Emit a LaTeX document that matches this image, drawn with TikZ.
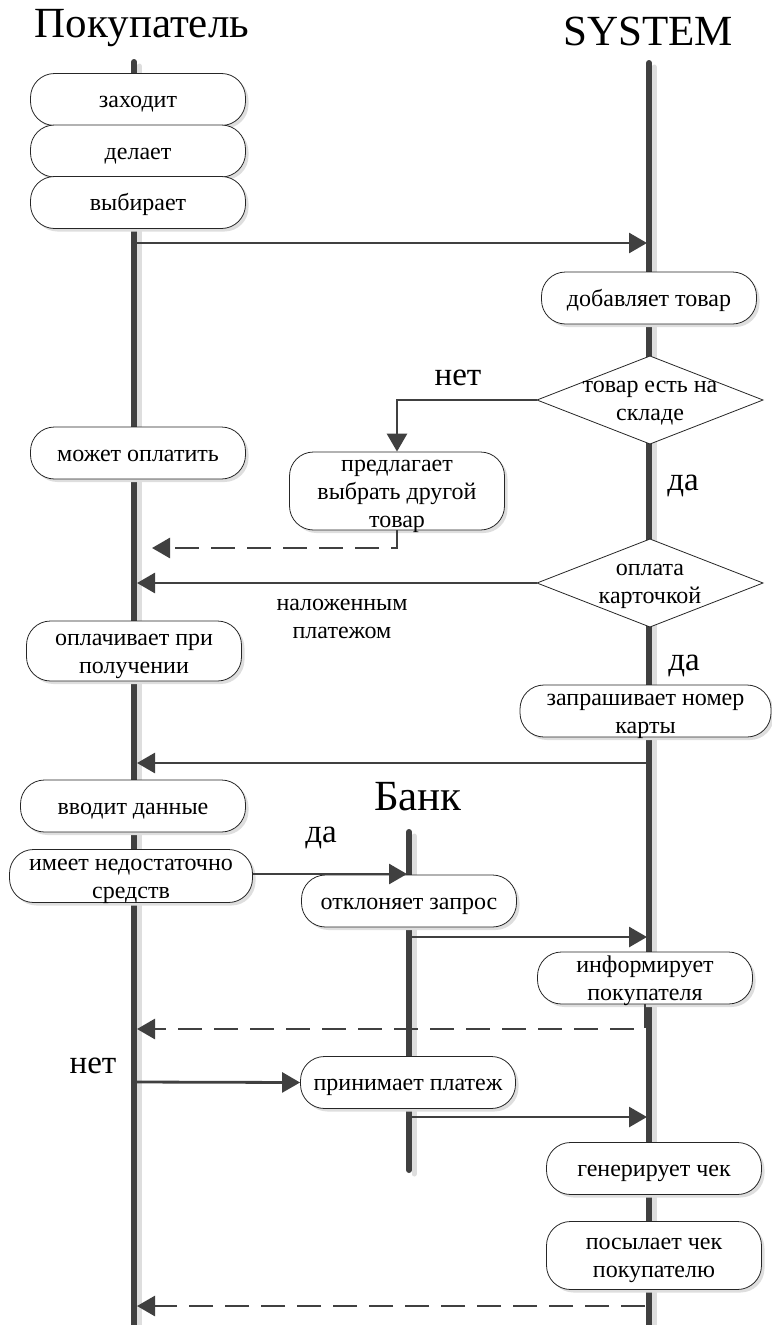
\documentclass[tikz,border=0pt]{standalone}
\usepackage{fontspec}
\setmainfont{Liberation Serif}
\usetikzlibrary{arrows.meta, shadows}
\usepackage{xcolor}

\definecolor{linegray}{HTML}{404040}
\definecolor{shadegray}{HTML}{DEDEDE}

\tikzset{
  action/.style={draw=black!85, line width=0.8pt, fill=white, rounded corners=24pt,
    minimum width=215pt, minimum height=52pt, align=center, inner sep=0pt,
    font=\fontsize{24}{28}\selectfont, text height=16pt, text depth=0pt,
    drop shadow={shadow xshift=3pt, shadow yshift=-3pt, fill=shadegray, opacity=1}},
  twolines/.style={text height=44pt},
  decision/.style={draw=black!85, line width=0.8pt, fill=white},
  lifeline/.style={draw=linegray, line width=6pt, line cap=round},
  lifeshade/.style={draw=shadegray, line width=5pt, line cap=round},
  msg/.style={draw=linegray, line width=2.8pt, -{Triangle[length=18pt,width=20pt]}},
  reply/.style={msg, dash pattern=on 24pt off 12pt},
  lane/.style={font=\fontsize{43}{46}\selectfont, anchor=base},
  cond/.style={font=\fontsize{33}{35}\selectfont, anchor=base},
  note/.style={font=\fontsize{24}{28}\selectfont, align=center, text height=44pt,
    text depth=0pt, inner sep=0pt},
}

\begin{document}
\begin{tikzpicture}[x=1pt, y=-1pt]
  \useasboundingbox (0,0) rectangle (771,1325);

  % lifelines
  \foreach \x/\t/\b in {134/62/1335, 649/63/1335, 409/832/1170} {
    \draw[lifeshade] (\x+5,\t+4) -- (\x+5,\b+4);
    \draw[lifeline] (\x,\t) -- (\x,\b);
  }

  % lane titles
  \node[lane] (buyer) at (142,37) {Покупатель};
  \node[lane] (system) at (648,45) {SYSTEM};
  \node[lane] (bank) at (418,810) {Банк};

  % buyer actions
  \node[action] (enter) at (138,99.5) {заходит};
  \node[action] (make) at (138,151) {делает};
  \node[action] (choose) at (138,202.5) {выбирает};
  \node[action] (canpay) at (138,453) {может оплатить};
  \node[action, twolines, minimum height=60pt] (cod) at (134,651) {оплачивает при\\получении};
  \node[action, minimum width=225pt] (input) at (133,806) {вводит данные};
  \node[action, twolines, minimum width=243pt, minimum height=53pt] (lowfunds) at (131,876) {имеет недостаточно\\средств};

  % system actions
  \node[action] (additem) at (649,298) {добавляет товар};
  \node[action, minimum height=78pt,
    label={[note, text height=72pt]center:предлагает\\выбрать другой\\товар}] (offer) at (397,491) {};
  \node[action, twolines, minimum width=251pt] (askcard) at (645.5,711) {запрашивает номер\\карты};
  \node[action, twolines] (inform) at (645,978) {информирует\\покупателя};
  \node[action] (receipt) at (654,1168.5) {генерирует чек};
  \node[action, twolines, minimum height=68pt] (sendrec) at (654,1255.5) {посылает чек\\покупателю};

  % bank actions
  \node[action] (decline) at (409,901) {отклоняет запрос};
  \node[action] (accept) at (408,1082.5) {принимает платеж};

  % decisions
  \draw[decision] (537,400) -- (650,356) -- (763,400) -- (650,444) -- cycle;
  \node[note] (instock) at (650,398) {товар есть на\\складе};
  \coordinate (instockW) at (537,400);
  \draw[decision] (537,583) -- (650,539) -- (763,583) -- (650,627) -- cycle;
  \node[note] (bycard) at (650,581) {оплата\\карточкой};
  \coordinate (bycardW) at (537,583);

  % branch labels
  \node[cond] (no1) at (458,385) {нет};
  \node[cond] (yes1) at (683,490) {да};
  \node[cond] (yes2) at (684,670) {да};
  \node[cond] (yes3) at (321,842) {да};
  \node[cond] (no2) at (93,1073) {нет};
  \node[note] (cash) at (342,616) {наложенным\\платежом};

  % message end points
  \coordinate (p1) at (134,243);   \coordinate (s1) at (647,243);
  \coordinate (r1) at (152,548);
  \coordinate (p2) at (137,583);
  \coordinate (s3) at (649,763);   \coordinate (p3) at (137,763);
  \coordinate (b4) at (407,874);
  \coordinate (b5) at (409,937);   \coordinate (s5) at (647,937);
  \coordinate (p6) at (137,1029);
  \coordinate (p7) at (134,1082);
  \coordinate (b8) at (409,1117);  \coordinate (s8) at (647,1117);
  \coordinate (s9) at (645,1306);  \coordinate (p9) at (137,1306);

  % messages
  \draw[msg] (p1) -- (s1);
  \draw[msg] (instockW) -| (offer.north);
  \draw[reply] (offer.south) |- (r1);
  \draw[msg] (bycardW) -- (p2);
  \draw[msg] (s3) -- (p3);
  \draw[msg] (lowfunds.east |- b4) -- (b4);
  \draw[msg] (b5) -- (s5);
  \draw[reply] (inform.south) |- (p6);
  \draw[msg] (p7) -- (accept.west);
  \draw[msg] (b8) -- (s8);
  \draw[reply] (s9) -- (p9);
\end{tikzpicture}
\end{document}
